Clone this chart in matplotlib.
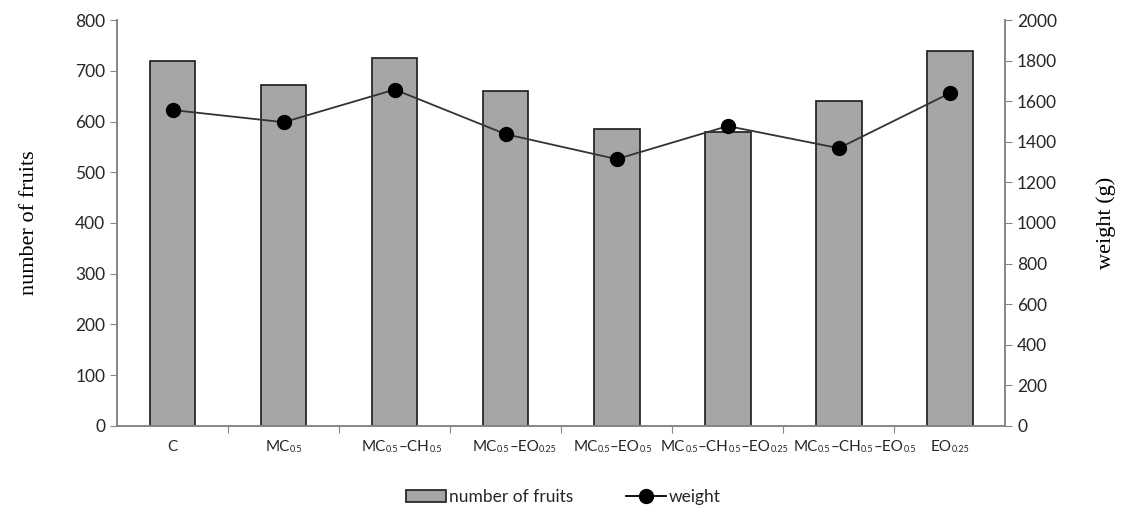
import re
import numpy as np
import matplotlib.pyplot as plt
from matplotlib.lines import Line2D
from matplotlib.patches import Patch
from matplotlib.offsetbox import TextArea, HPacker, AnnotationBbox

categories = ["C", "MC$_{0.5}$", "MC$_{0.5}$\u2013CH$_{0.5}$", "MC$_{0.5}$\u2013EO$_{0.25}$",
              "MC$_{0.5}$\u2013EO$_{0.5}$", "MC$_{0.5}$\u2013CH$_{0.5}$\u2013EO$_{0.25}$",
              "MC$_{0.5}$\u2013CH$_{0.5}$\u2013EO$_{0.5}$", "EO$_{0.25}$"]
fruits = [720, 673, 725, 660, 585, 580, 640, 739]
weight = [1557, 1497, 1658, 1438, 1315, 1478, 1369, 1640]
# small horizontal nudges (pixels) of the category labels, like the original
label_shift = [0, 0, 7, 9, -4, -3, 16, 0]

plt.rcParams['font.family'] = ['Lato', 'DejaVu Sans']

axis_col = "#868686"
text_col = "#262626"
fig = plt.figure(figsize=(11.27, 5.18), dpi=100)
ax = fig.add_axes([0.104, 0.178, 0.788, 0.783])
x = np.arange(len(categories))

ax.bar(x, fruits, width=0.41, color="#A6A6A6", edgecolor="#1a1a1a", linewidth=1.2, zorder=2)
ax.set_xlim(-0.5, len(categories) - 0.5)
ax.set_ylim(0, 800)
ax.set_yticks(range(0, 801, 100))
ax.set_xticks(np.arange(0.5, len(categories) - 0.5, 1))
ax.set_xticklabels([])
ax.tick_params(axis='x', length=5, color=axis_col, direction='out')
ax.tick_params(axis='y', length=5, color=axis_col, labelsize=12.5, labelcolor=text_col)


def label_box(lab):
    # split "MC$_{0.5}$" style text into normal and small subscript pieces
    parts = re.split(r'\$_\{(.*?)\}\$', lab)
    areas = []
    for i, p in enumerate(parts):
        if not p:
            continue
        size = 6.5 if i % 2 else 11
        areas.append(TextArea(p, textprops=dict(fontsize=size, color=text_col)))
    return HPacker(children=areas, align='bottom', pad=0, sep=0)


for xi, lab, dx in zip(x, categories, label_shift):
    ab = AnnotationBbox(label_box(lab), (xi, 0), xycoords=('data', 'axes fraction'),
                        xybox=(dx, -21), boxcoords='offset pixels', frameon=False,
                        box_alignment=(0.5, 0.5), pad=0)
    ax.add_artist(ab)

ax.set_ylabel("number of fruits", fontsize=16, family='Liberation Serif', labelpad=26)
ax.spines['top'].set_visible(False)
for s in ['left', 'bottom', 'right']:
    ax.spines[s].set_color(axis_col)
    ax.spines[s].set_linewidth(1.2)

ax2 = ax.twinx()
ax2.plot(x, weight, color="#333333", linewidth=1.3, marker='o', markersize=10,
         markerfacecolor='black', markeredgecolor='black', zorder=3)
ax2.set_ylim(0, 2000)
ax2.set_yticks(range(0, 2001, 200))
ax2.tick_params(axis='y', length=5, color=axis_col, labelsize=12.5, labelcolor=text_col)
ax2.set_ylabel("weight (g)", fontsize=16, family='Liberation Serif', labelpad=28)
ax2.spines['top'].set_visible(False)
for s in ['left', 'bottom', 'right']:
    ax2.spines[s].set_color(axis_col)
    ax2.spines[s].set_linewidth(1.2)

handles = [Patch(facecolor="#A6A6A6", edgecolor="#1a1a1a", linewidth=1.2, label="number of fruits"),
           Line2D([], [], color="black", marker='o', markersize=10, linewidth=1.3, label="weight")]
leg = fig.legend(handles=handles, loc='center', bbox_to_anchor=(0.5, 0.04), ncol=2, frameon=False,
                 fontsize=12.5, handlelength=2.3, handletextpad=0.2, columnspacing=3)
for t in leg.get_texts():
    t.set_color(text_col)

fig.savefig("out.png", dpi=100)
